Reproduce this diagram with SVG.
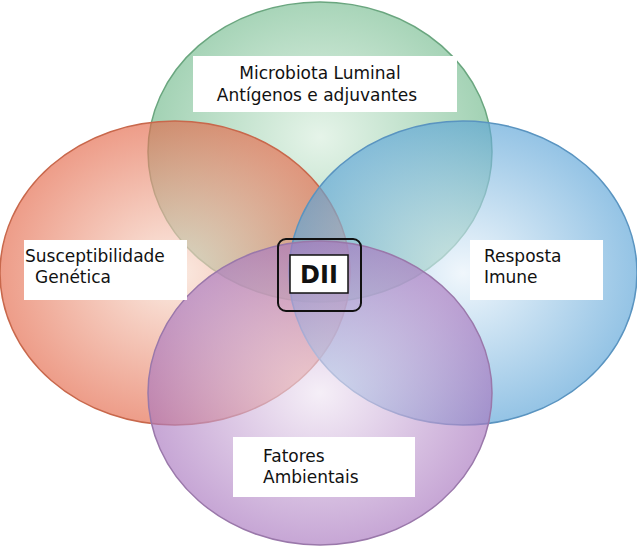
<svg xmlns="http://www.w3.org/2000/svg" width="637" height="551" viewBox="0 0 637 551">
<style>
.c{stroke-width:1.5;fill-opacity:0.65}
.b{fill:#fff}
.t{font-family:"DejaVu Sans",sans-serif;font-size:17px;fill:#111}
</style>
<defs>
<radialGradient id="gg" cx="0.5" cy="0.45" r="0.6"><stop offset="0" stop-color="#d8eedd"/><stop offset="1" stop-color="#5aae7a"/></radialGradient>
<radialGradient id="gr" cx="0.5" cy="0.5" r="0.6"><stop offset="0" stop-color="#f8e0d2"/><stop offset="1" stop-color="#e0502e"/></radialGradient>
<radialGradient id="gb" cx="0.5" cy="0.5" r="0.6"><stop offset="0" stop-color="#e8f2fa"/><stop offset="1" stop-color="#3f94d0"/></radialGradient>
<radialGradient id="gp" cx="0.5" cy="0.5" r="0.6"><stop offset="0" stop-color="#f0e6f3"/><stop offset="1" stop-color="#9a60b4"/></radialGradient>
</defs>
<rect width="637" height="551" fill="#fff"/>
<g id="top"><ellipse class="c" cx="320" cy="152" rx="172" ry="150" fill="url(#gg)" stroke="#6aa67f"/></g>
<g id="left"><ellipse class="c" cx="175" cy="273" rx="175" ry="152" fill="url(#gr)" stroke="#c8684c"/></g>
<g id="right"><ellipse class="c" cx="463" cy="273" rx="174" ry="152" fill="url(#gb)" stroke="#5a94c0"/></g>
<g id="bottom"><ellipse class="c" cx="320" cy="393" rx="172" ry="152" fill="url(#gp)" stroke="#9a78aa"/></g>
<g id="l-top"><rect class="b" x="193" y="56" width="264" height="56"/><text class="t" x="320" y="79" text-anchor="middle">Microbiota Luminal</text><text class="t" x="317" y="101" text-anchor="middle">Antígenos e adjuvantes</text></g>
<g id="l-left"><rect class="b" x="24" y="240" width="163" height="60"/><text class="t" x="25" y="262">Susceptibilidade</text><text class="t" x="35" y="283">Genética</text></g>
<g id="l-right"><rect class="b" x="470" y="240" width="133" height="60"/><text class="t" x="484" y="262">Resposta</text><text class="t" x="484" y="283">Imune</text></g>
<g id="l-bottom"><rect class="b" x="233" y="437" width="182" height="60"/><text class="t" x="263" y="462">Fatores</text><text class="t" x="263" y="483">Ambientais</text></g>
<g id="dii"><rect x="278" y="239" width="83" height="72" rx="8" fill="none" stroke="#111" stroke-width="2"/><rect x="290" y="255" width="58" height="38" fill="#fff" stroke="#111" stroke-width="1.5"/><text x="319" y="283" text-anchor="middle" font-family="DejaVu Sans,sans-serif" font-size="24" font-weight="bold" fill="#111">DII</text></g>
<g id="connectors"/>
</svg>
